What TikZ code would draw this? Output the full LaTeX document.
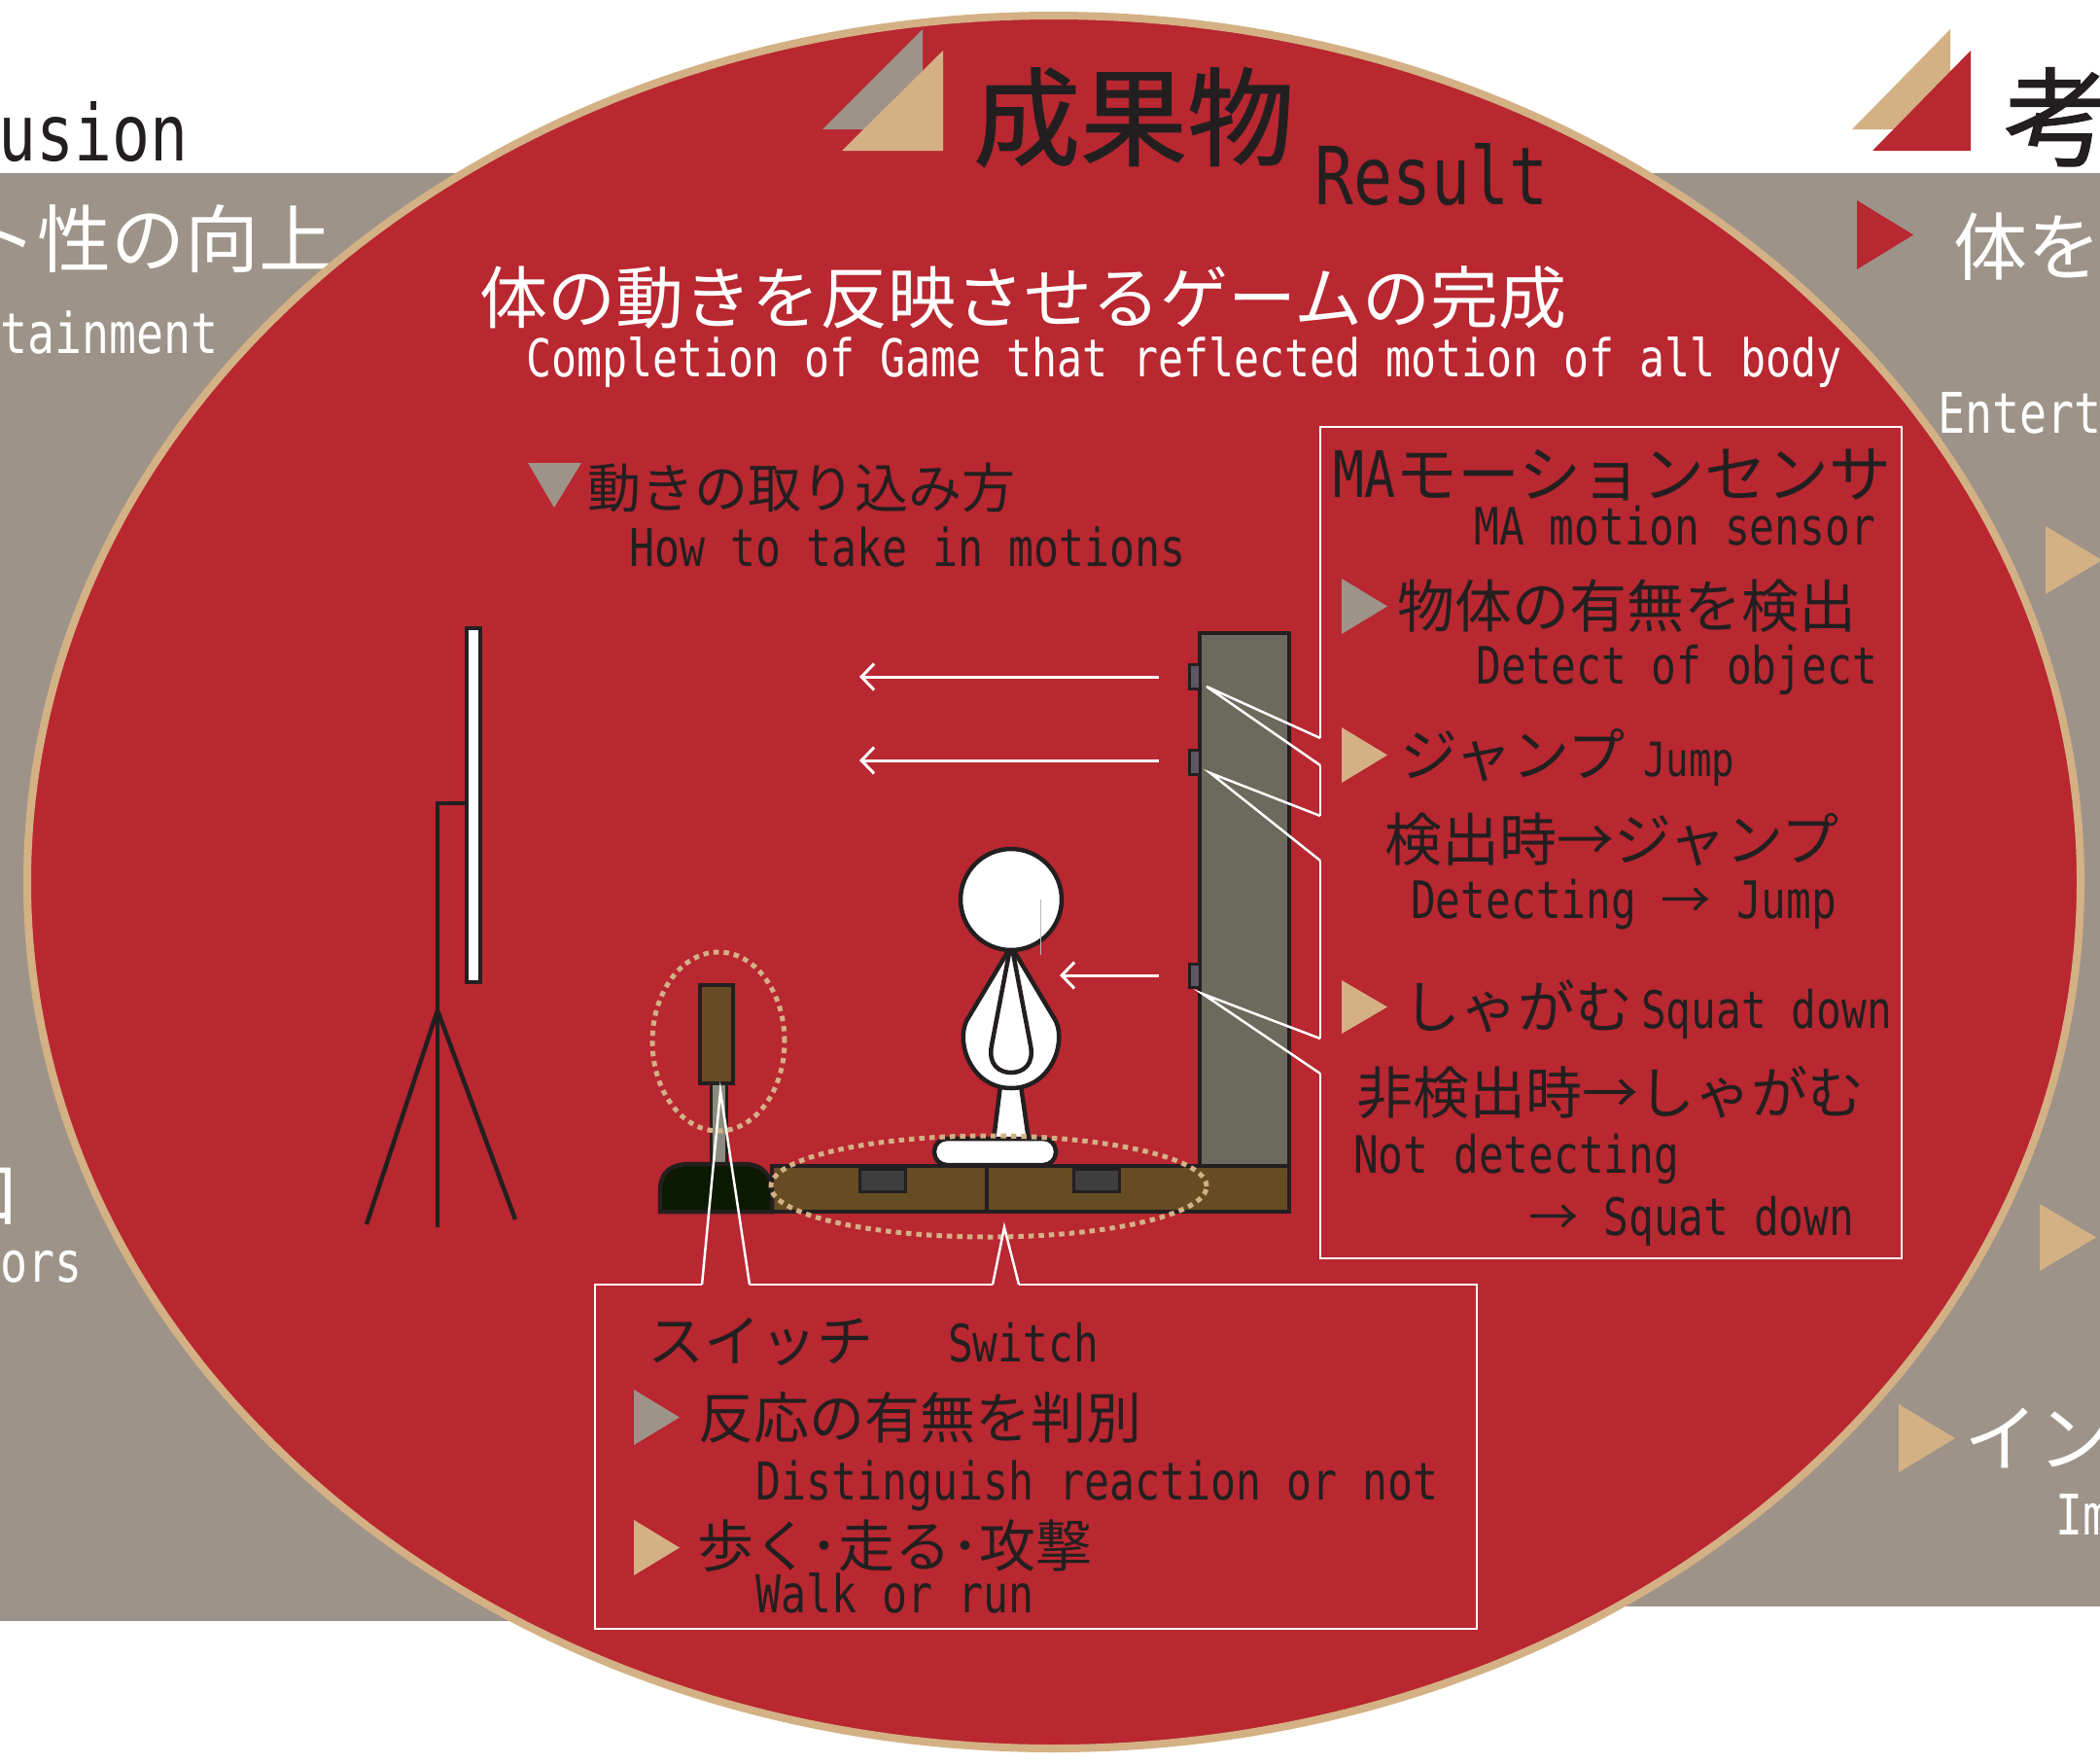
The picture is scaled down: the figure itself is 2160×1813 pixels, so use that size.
\documentclass[tikz,border=0pt]{standalone}
\usepackage{fontspec}
\newfontfamily\jp{Noto Sans CJK JP}
\newfontfamily\jpb[FakeBold=1.2]{Noto Sans CJK JP}
\newfontfamily\lat[Scale=1.03,FakeStretch=0.807]{DejaVu Sans Mono}
\usetikzlibrary{arrows.meta}
\definecolor{crimson}{RGB}{185,39,48}
\definecolor{sand}{RGB}{211,177,133}
\definecolor{stone}{RGB}{157,147,137}
\definecolor{ink}{RGB}{35,31,32}
\definecolor{wood}{RGB}{102,76,34}
\definecolor{pillar}{RGB}{108,106,92}
\definecolor{lens}{RGB}{94,86,99}
\definecolor{pad}{RGB}{62,62,62}
\definecolor{basegreen}{RGB}{11,25,0}
\definecolor{rodgray}{RGB}{140,140,126}
\tikzset{
  jt/.style={inner sep=0pt, anchor=base west, font=\jp\fontsize{#1}{#1}\selectfont},
  jbt/.style={inner sep=0pt, anchor=base west, font=\jpb\fontsize{#1}{#1}\selectfont},
  lt/.style={inner sep=0pt, anchor=base west, font=\lat\fontsize{#1}{#1}\selectfont},
  mixed/.style={inner sep=0pt, anchor=base west, font=\fontsize{#1}{#1}\selectfont},
  outline/.style={draw=ink, line width=4.5pt},
  thinout/.style={draw=ink, line width=3pt},
  frame/.style={draw=white, line width=2.5pt},
  callout/.style={draw=white, line width=2.5pt, line join=miter},
  beam/.style={draw=white, line width=3pt, -{Straight Barb[length=13pt,width=27pt]}},
  halo/.style={draw=sand, line width=5pt, dash pattern=on 5.5pt off 5pt},
}
\begin{document}
\begin{tikzpicture}[x=1pt,y=-1pt]
\useasboundingbox (0,0) rectangle (2160,1813);
\fill[white] (0,0) rectangle (2160,1813);

% grey side bands behind the oval
\fill[stone] (0,178) rectangle (1084,1667);
\fill[stone] (1084,178) rectangle (2160,1652);

% left band texts
\node[lt=78, text=ink] (lconc) at (-2,165) {usion};
\node[jt=76, text=white] (lent) at (-38,274) {ト性の向上};
\node[lt=56, text=white] (lenten) at (0,363) {tainment};
\node[jt=74, text=white] (lmouth) at (-54,1255) {口};
\node[lt=56, text=white] (lsens) at (0,1318) {ors};

% right band heading and texts
\fill[sand] (1905,133) -- (2006,30) -- (2006,133) -- cycle;
\fill[crimson] (1926,155) -- (2027,52) -- (2027,155) -- cycle;
\node[jbt=110, text=ink] (rhead) at (2061,162) {考};
\fill[crimson] (1910,206) -- (1910,277) -- (1968,241.5) -- cycle;
\node[jt=76, text=white] (rbody) at (2009,282) {体を};
\node[lt=56, text=white] (renter) at (1993,445) {Entert};
\fill[sand] (2104,541) -- (2104,611) -- (2162,576) -- cycle;
\fill[sand] (2098,1238) -- (2098,1307) -- (2156,1272.5) -- cycle;
\fill[sand] (1953,1444) -- (1953,1514) -- (2011,1479) -- cycle;
\node[jt=76, text=white] (rin) at (2020,1507) {イン};
\node[lt=56, text=white] (rim) at (2114,1578) {Im};

% the result oval
\draw[fill=crimson, draw=sand, line width=8pt] (1084,907) ellipse [x radius=1056pt, y radius=891pt];

% heading
\fill[stone] (846,133) -- (949,30) -- (949,133) -- cycle;
\fill[sand] (866,155) -- (970,52) -- (970,155) -- cycle;
\node[jbt=110, text=ink] (title) at (1001,162) {成果物};
\node[lt=80, text=ink] (titleen) at (1352,210) {Result};
\node[jt=70, text=white] (goal) at (493,332) {体の動きを反映させるゲームの完成};
\node[lt=52, text=white] (goalen) at (541,387) {Completion of Game that reflected motion of all body};

% how motions are captured
\fill[stone] (543,476) -- (598,476) -- (570,522) -- cycle;
\node[jt=55, text=ink] (how) at (604,522) {動きの取り込み方};
\node[lt=52, text=ink] (howen) at (647,582) {How to take in motions};

% screen on a tripod
\draw[outline, line cap=butt] (480,826) -- (450,826) -- (450,1262);
\draw[outline] (450,1039) -- (377,1259);
\draw[outline] (450,1039) -- (530,1254);
\draw[outline, fill=white] (480,646) rectangle (494,1010);

% sensor pillar and floor
\draw[outline, fill=pillar] (1234,651) rectangle (1326,1200);
\draw[outline, fill=wood] (794,1199) rectangle (1326,1246);
\draw[outline] (1015,1199) -- (1015,1246);
\draw[thinout, fill=pad] (884,1202) rectangle (931,1225);
\draw[thinout, fill=pad] (1104,1202) rectangle (1151,1225);
\draw[thinout, fill=lens] (1223,683) rectangle (1234,708);
\draw[thinout, fill=lens] (1223,771) rectangle (1234,796);
\draw[thinout, fill=lens] (1223,991) rectangle (1234,1015);

% sensor beams
\coordinate (b1) at (1192,696); \coordinate (b1e) at (884,696);
\coordinate (b2) at (1192,782); \coordinate (b2e) at (884,782);
\coordinate (b3) at (1192,1003); \coordinate (b3e) at (1090,1003);
\draw[beam] (b1) -- (b1e);
\draw[beam] (b2) -- (b2e);
\draw[beam] (b3) -- (b3e);

% switch
\draw[thinout, fill=rodgray] (731,1114) rectangle (747,1198);
\draw[outline, fill=basegreen] (679,1246) -- (679,1225) .. controls (679,1205) and (690,1197) .. (710,1197)
  -- (765,1197) .. controls (785,1197) and (794,1210) .. (794,1225) -- (794,1246) -- cycle;
\draw[outline, fill=wood] (720,1013) rectangle (754,1114);

% player
\draw[outline, fill=white, line join=round] (1029,1116) -- (1050,1116) -- (1058,1172) -- (1022,1172) -- cycle;
\draw[outline, fill=white, rounded corners=13pt] (961,1171) rectangle (1086,1198);
\draw[outline, fill=white, line join=round] (1037,978) -- (994,1050)
  .. controls (983,1074) and (1000,1119) .. (1040,1119)
  .. controls (1080,1119) and (1097,1074) .. (1086,1050) -- (1043,978) -- cycle;
\draw[outline, fill=white, line join=round] (1038,980) -- (1020,1075)
  .. controls (1016,1095) and (1028,1103) .. (1040,1103)
  .. controls (1052,1103) and (1064,1095) .. (1060,1075) -- (1042,980) -- cycle;
\draw[outline, fill=white] (1040,925) circle [radius=52pt];
\draw[gray!55, line width=1pt] (1070,925) -- (1070,982);

% highlighted parts
\draw[halo] (739,1071) ellipse [x radius=68pt, y radius=92pt];
\draw[halo] (1017,1220) ellipse [x radius=224pt, y radius=52pt];

% motion sensor panel
\coordinate (m1a) at (1358,759); \coordinate (m1b) at (1358,787);
\coordinate (m2a) at (1358,839); \coordinate (m2b) at (1358,885);
\coordinate (m3a) at (1358,1068); \coordinate (m3b) at (1358,1104);
\coordinate (s1) at (1241,706);
\coordinate (s2) at (1245,795);
\coordinate (s3) at (1237,1022);
\draw[frame] (m1a) -- (1358,439) -- (1956,439) -- (1956,1294) -- (1358,1294) -- (m3b);
\draw[frame] (m1b) -- (m2a);
\draw[frame] (m2b) -- (m3a);
\draw[callout] (m1a) -- (s1) -- (m1b);
\draw[callout] (m2a) -- (s2) -- (m2b);
\draw[callout] (m3a) -- (s3) -- (m3b);

\node[mixed=64, text=ink] (ma) at (1371,511) {\lat MA\jp モーションセンサ};
\node[lt=51.5, text=ink, anchor=base east] (maen) at (1929,560) {MA motion sensor};
\fill[stone] (1380,595) -- (1380,652) -- (1427,623.5) -- cycle;
\node[jt=59, text=ink] (detect) at (1437,645) {物体の有無を検出};
\node[lt=51.5, text=ink, anchor=base east] (detecten) at (1931,703) {Detect of object};
\fill[sand] (1380,748) -- (1380,805) -- (1427,776.5) -- cycle;
\node[jt=59, text=ink] (jump) at (1440,798) {ジャンプ};
\node[lt=47, text=ink] (jumpen) at (1690,798) {Jump};
\node[jt=59, text=ink] (jumprule) at (1424,885) {検出時→ジャンプ};
\node[mixed=51.5, text=ink] (jumpruleen) at (1451,944) {\lat Detecting~\jp →\lat~Jump};
\fill[sand] (1380,1008) -- (1380,1063) -- (1427,1035.5) -- cycle;
\node[jt=59, text=ink] (squat) at (1443,1057) {しゃがむ};
\node[lt=51.5, text=ink] (squaten) at (1688,1057) {Squat down};
\node[jt=58, text=ink] (squatrule) at (1395,1145) {非検出時→しゃがむ};
\node[lt=51.5, text=ink] (squatruleen) at (1392,1206) {Not detecting};
\node[mixed=51.5, text=ink] (squatruleen2) at (1572,1270) {\jp →\lat~Squat down};

% switch panel
\coordinate (w1a) at (722,1321); \coordinate (w1b) at (771,1321);
\coordinate (w2a) at (1021,1321); \coordinate (w2b) at (1048,1321);
\coordinate (sw) at (741,1122);
\coordinate (fl) at (1033,1262);
\draw[frame] (w1a) -- (612,1321) -- (612,1675) -- (1519,1675) -- (1519,1321) -- (w2b);
\draw[frame] (w1b) -- (w2a);
\draw[callout] (w1a) -- (sw) -- (w1b);
\draw[callout] (w2a) -- (fl) -- (w2b);

\node[jt=58, text=ink] (switch) at (666,1400) {スイッチ};
\node[lt=51.5, text=ink] (switchen) at (975,1400) {Switch};
\fill[stone] (652,1429) -- (652,1486) -- (699,1457.5) -- cycle;
\node[jt=57, text=ink] (react) at (718,1479) {反応の有無を判別};
\node[lt=52, text=ink] (reacten) at (777,1542) {Distinguish reaction or not};
\fill[sand] (652,1563) -- (652,1620) -- (699,1591.5) -- cycle;
\node[jt=58, text=ink] (walk) at (717,1611) {歩く･走る･攻撃};
\node[lt=52, text=ink] (walken) at (777,1658) {Walk or run};
\end{tikzpicture}
\end{document}
